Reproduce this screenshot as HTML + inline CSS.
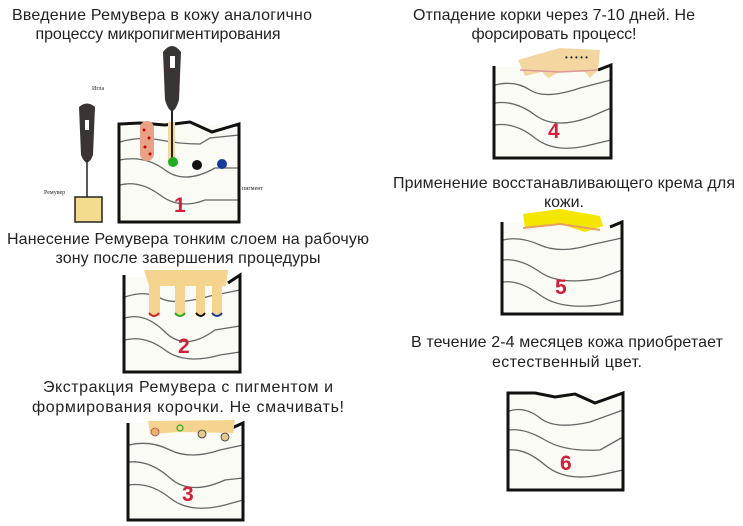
<!DOCTYPE html>
<html><head><meta charset="utf-8"><style>
html,body{margin:0;padding:0;background:#fff}
svg{display:block}
text{font-family:"Liberation Sans",Arial,sans-serif;font-size:16px;fill:#222}
.n{font-weight:bold;font-size:21px;fill:#d0203a}
.w{fill:none;stroke:#666;stroke-width:1.3}
.b{fill:none;stroke:#111;stroke-width:3}
</style></head><body>
<svg width="743" height="526" viewBox="0 0 743 526" xmlns="http://www.w3.org/2000/svg">
<text x="162" y="20" text-anchor="middle" textLength="300">Введение Ремувера в кожу аналогично</text>
<text x="158" y="39" text-anchor="middle" textLength="245">процессу микропигментирования</text>
<text x="188" y="244" text-anchor="middle" textLength="362">Нанесение Ремувера тонким слоем на рабочую</text>
<text x="188" y="263" text-anchor="middle" textLength="265">зону после завершения процедуры</text>
<text x="188" y="392" text-anchor="middle" textLength="290">Экстракция Ремувера с пигментом и</text>
<text x="188" y="412" text-anchor="middle" textLength="312">формирования корочки. Не смачивать!</text>
<text x="554" y="20" text-anchor="middle" textLength="282">Отпадение корки через 7-10 дней. Не</text>
<text x="554" y="39" text-anchor="middle" textLength="165">форсировать процесс!</text>
<text x="564" y="188" text-anchor="middle" textLength="342">Применение восстанавливающего крема для</text>
<text x="564" y="207" text-anchor="middle">кожи.</text>
<text x="567" y="347" text-anchor="middle" textLength="312">В течение 2-4 месяцев кожа приобретает</text>
<text x="567" y="367" text-anchor="middle" textLength="150">естественный цвет.</text>

<!-- Box 1 -->
<rect x="119" y="125" width="120" height="97" fill="#fbfbf5"/>
<path class="w" d="M120 142 Q140 136 160 140 T200 144 L210 138 L239 135"/>
<path class="w" d="M120 160 Q145 155 165 170 T215 168 L239 168"/>
<path class="w" d="M120 185 Q140 180 160 195 T205 200 L239 200"/>
<path class="b" d="M119 124 L119 222 L239 222 L239 124 L212 132 L190 122 L165 125 L140 123 Z" fill="none"/>
<rect x="140" y="121" width="14" height="40" rx="7" fill="#e9a188"/>
<circle cx="144" cy="130" r="1.5" fill="#c00"/><circle cx="149" cy="138" r="1.5" fill="#c00"/><circle cx="145" cy="147" r="1.5" fill="#c00"/><circle cx="150" cy="154" r="1.5" fill="#c00"/>
<rect x="168" y="122" width="7" height="40" fill="#f0d8a0"/>
<line x1="172" y1="100" x2="172" y2="160" stroke="#222" stroke-width="2"/>
<path d="M163 52 Q172 40 181 52 L179 100 Q172 122 165 100 Z" fill="#3a3434"/>
<rect x="170" y="56" width="5" height="12" fill="#fff"/>
<circle cx="173" cy="162" r="5" fill="#2a2"/>
<circle cx="197" cy="165" r="5" fill="#111"/>
<circle cx="222" cy="164" r="5" fill="#1a3a9a"/>
<text x="242" y="190" style="font-size:6px;font-family:'Liberation Serif',serif">пигмент</text>
<text class="n" x="174" y="212">1</text>
<path d="M79 107 Q87 100 95 107 L93 155 Q87 170 81 155 Z" fill="#3a3434"/>
<rect x="85" y="120" width="4" height="10" fill="#fff"/>
<line x1="87" y1="160" x2="87" y2="212" stroke="#222" stroke-width="1.5"/>
<rect x="75" y="197" width="27" height="25" fill="#f3dc8e" stroke="#222" stroke-width="1.5"/>
<text x="92" y="90" style="font-size:6px;font-family:'Liberation Serif',serif">Игла</text>
<text x="44" y="194" style="font-size:6px;font-family:'Liberation Serif',serif">Ремувер</text>

<!-- Box 2 -->
<rect x="124" y="277" width="116" height="95" fill="#fbfbf5"/>
<path class="w" d="M125 297 Q145 290 160 298 T210 296 L240 290"/>
<path class="w" d="M125 318 Q145 312 165 332 T215 330 L240 326"/>
<path class="w" d="M125 340 Q145 335 165 350 T220 355 L240 352"/>
<path class="b" d="M124 275 L124 372 L240 372 L240 275 L228 283"/>
<path d="M144 270 L228 270 L226 286 L222 286 L222 316 L212 316 L212 286 L205 286 L205 316 L196 316 L196 286 L185 286 L185 316 L175 316 L175 286 L160 286 L160 316 L149 316 L149 286 Z" fill="#f4d48e"/>
<path d="M149 313 q5 6 10 0" stroke="#c22" stroke-width="2" fill="none"/>
<path d="M175 313 q5 6 10 0" stroke="#2a2" stroke-width="2" fill="none"/>
<path d="M196 313 q5 6 9 0" stroke="#111" stroke-width="2" fill="none"/>
<path d="M212 313 q5 6 10 0" stroke="#1a3a9a" stroke-width="2" fill="none"/>
<text class="n" x="178" y="353">2</text>

<!-- Box 3 -->
<rect x="128" y="423" width="115" height="97" fill="#fbfbf5"/>
<path class="w" d="M129 445 Q150 440 170 450 T220 450 L243 445"/>
<path class="w" d="M129 462 Q150 460 170 478 T225 480 L243 478"/>
<path class="w" d="M129 485 Q150 482 170 498 T225 505 L243 500"/>
<path class="b" d="M128 423 L128 520 L243 520 L243 423 L232 428"/>
<path d="M148 421 L235 420 L233 433 L180 432 L150 434 Z" fill="#f4d48e"/>
<circle cx="155" cy="432" r="4" fill="#e9b070" stroke="#a55" stroke-width="0.8"/>
<circle cx="180" cy="428" r="3" fill="none" stroke="#2a2" stroke-width="1.2"/>
<circle cx="202" cy="434" r="4" fill="#e3c890" stroke="#333" stroke-width="0.8"/>
<circle cx="225" cy="437" r="4" fill="#e3c890" stroke="#333" stroke-width="0.8"/>
<text class="n" x="182" y="501">3</text>

<!-- Box 4 -->
<rect x="494" y="67" width="117" height="91" fill="#fbfbf5"/>
<path class="w" d="M495 85 Q515 80 530 90 T580 88 L611 80"/>
<path class="w" d="M495 103 Q515 100 535 115 T590 117 L611 108"/>
<path class="w" d="M495 125 Q515 122 535 138 T590 145 L611 140"/>
<path class="b" d="M494 66 L494 158 L611 158 L611 65 L598 70"/>
<path d="M518 60 Q545 52 560 48 L600 50 L598 70 L590 78 L585 72 L560 72 L548 78 L542 72 L525 76 Z" fill="#f4d7a0"/>
<path d="M520 70 L560 72 L598 70" stroke="#d99" stroke-width="1.5" fill="none"/>
<text x="565" y="60" style="font-size:8px;fill:#222">• • • • •</text>
<text class="n" x="548" y="138">4</text>

<!-- Box 5 -->
<rect x="502" y="222" width="120" height="92" fill="#fbfbf5"/>
<path class="w" d="M503 240 Q520 236 540 245 T590 245 L622 238"/>
<path class="w" d="M503 260 Q520 258 540 272 T600 278 L622 270"/>
<path class="w" d="M503 282 Q520 280 540 295 T600 305 L622 300"/>
<path class="b" d="M502 222 L502 314 L622 314 L622 222 L610 227"/>
<path d="M523 214 L560 209 L600 216 L603 226 L585 232 L560 224 L525 228 Z" fill="#f5e600"/>
<path d="M523 228 L560 224 L600 230" stroke="#e8a060" stroke-width="2" fill="none"/>
<text class="n" x="555" y="294">5</text>

<!-- Box 6 -->
<rect x="508" y="393" width="115" height="97" fill="#fbfbf5"/>
<path class="w" d="M509 411 Q525 406 540 418 T590 422 L623 410"/>
<path class="w" d="M509 430 Q525 428 545 440 T600 450 L623 437"/>
<path class="w" d="M509 450 Q525 448 545 465 T600 475 L623 470"/>
<path class="b" d="M508 393 L508 490 L623 490 L623 393 L595 403 L575 394 L555 397 L535 393 Z"/>
<text class="n" x="560" y="470">6</text>
</svg>
</body></html>
